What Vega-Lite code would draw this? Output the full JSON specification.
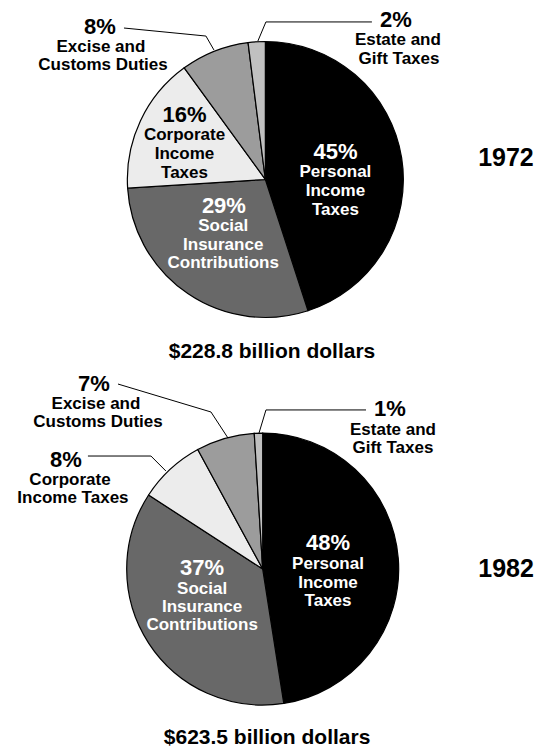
{
  "$schema": "https://vega.github.io/schema/vega-lite/v6.json",
  "padding": 0,
  "spacing": 0,
  "background": "white",
  "config": {
    "view": {"stroke": null},
    "text": {"font": "Liberation Sans", "fontWeight": "bold", "align": "center", "baseline": "middle"}
  },
  "datasets": {
    "slices": [
      {"year": 1972, "slice": "Personal Income Taxes", "pct": 45, "order": 1},
      {"year": 1972, "slice": "Social Insurance Contributions", "pct": 29, "order": 2},
      {"year": 1972, "slice": "Corporate Income Taxes", "pct": 16, "order": 3},
      {"year": 1972, "slice": "Excise and Customs Duties", "pct": 8, "order": 4},
      {"year": 1972, "slice": "Estate and Gift Taxes", "pct": 2, "order": 5},
      {"year": 1982, "slice": "Personal Income Taxes", "pct": 48, "order": 1},
      {"year": 1982, "slice": "Social Insurance Contributions", "pct": 37, "order": 2},
      {"year": 1982, "slice": "Corporate Income Taxes", "pct": 8, "order": 3},
      {"year": 1982, "slice": "Excise and Customs Duties", "pct": 7, "order": 4},
      {"year": 1982, "slice": "Estate and Gift Taxes", "pct": 1, "order": 5}
    ],
    "labels": [
      {"year": 1972, "role": "pct", "slice": "Personal Income Taxes", "placement": "inside", "text": "45%", "x": 0.507, "y": 0.198},
      {"year": 1972, "role": "name", "slice": "Personal Income Taxes", "placement": "inside", "text": "Personal", "x": 0.507, "y": 0.054},
      {"year": 1972, "role": "name", "slice": "Personal Income Taxes", "placement": "inside", "text": "Income", "x": 0.507, "y": -0.084},
      {"year": 1972, "role": "name", "slice": "Personal Income Taxes", "placement": "inside", "text": "Taxes", "x": 0.507, "y": -0.221},
      {"year": 1972, "role": "pct", "slice": "Social Insurance Contributions", "placement": "inside", "text": "29%", "x": -0.3, "y": -0.193},
      {"year": 1972, "role": "name", "slice": "Social Insurance Contributions", "placement": "inside", "text": "Social", "x": -0.305, "y": -0.337},
      {"year": 1972, "role": "name", "slice": "Social Insurance Contributions", "placement": "inside", "text": "Insurance", "x": -0.305, "y": -0.471},
      {"year": 1972, "role": "name", "slice": "Social Insurance Contributions", "placement": "inside", "text": "Contributions", "x": -0.305, "y": -0.605},
      {"year": 1972, "role": "pct", "slice": "Corporate Income Taxes", "placement": "inside", "text": "16%", "x": -0.585, "y": 0.466},
      {"year": 1972, "role": "name", "slice": "Corporate Income Taxes", "placement": "inside", "text": "Corporate", "x": -0.585, "y": 0.322},
      {"year": 1972, "role": "name", "slice": "Corporate Income Taxes", "placement": "inside", "text": "Income", "x": -0.585, "y": 0.185},
      {"year": 1972, "role": "name", "slice": "Corporate Income Taxes", "placement": "inside", "text": "Taxes", "x": -0.585, "y": 0.047},
      {"year": 1972, "role": "pct", "slice": "Excise and Customs Duties", "placement": "outside", "text": "8%", "x": -1.197, "y": 1.105},
      {"year": 1972, "role": "name", "slice": "Excise and Customs Duties", "placement": "outside", "text": "Excise and", "x": -1.19, "y": 0.96},
      {"year": 1972, "role": "name", "slice": "Excise and Customs Duties", "placement": "outside", "text": "Customs Duties", "x": -1.175, "y": 0.829},
      {"year": 1972, "role": "pct", "slice": "Estate and Gift Taxes", "placement": "outside", "text": "2%", "x": 0.944, "y": 1.152},
      {"year": 1972, "role": "name", "slice": "Estate and Gift Taxes", "placement": "outside", "text": "Estate and", "x": 0.959, "y": 1.01},
      {"year": 1972, "role": "name", "slice": "Estate and Gift Taxes", "placement": "outside", "text": "Gift Taxes", "x": 0.967, "y": 0.873},
      {"year": 1972, "role": "year", "slice": "", "placement": "side", "text": "1972", "x": 1.741, "y": 0.156},
      {"year": 1972, "role": "total", "slice": "", "placement": "below", "text": "$228.8 billion dollars", "x": 0.048, "y": -1.249},
      {"year": 1982, "role": "pct", "slice": "Personal Income Taxes", "placement": "inside", "text": "48%", "x": 0.48, "y": 0.19},
      {"year": 1982, "role": "name", "slice": "Personal Income Taxes", "placement": "inside", "text": "Personal", "x": 0.48, "y": 0.037},
      {"year": 1982, "role": "name", "slice": "Personal Income Taxes", "placement": "inside", "text": "Income", "x": 0.48, "y": -0.099},
      {"year": 1982, "role": "name", "slice": "Personal Income Taxes", "placement": "inside", "text": "Taxes", "x": 0.48, "y": -0.235},
      {"year": 1982, "role": "pct", "slice": "Social Insurance Contributions", "placement": "inside", "text": "37%", "x": -0.445, "y": 0.004},
      {"year": 1982, "role": "name", "slice": "Social Insurance Contributions", "placement": "inside", "text": "Social", "x": -0.445, "y": -0.143},
      {"year": 1982, "role": "name", "slice": "Social Insurance Contributions", "placement": "inside", "text": "Insurance", "x": -0.445, "y": -0.277},
      {"year": 1982, "role": "name", "slice": "Social Insurance Contributions", "placement": "inside", "text": "Contributions", "x": -0.445, "y": -0.411},
      {"year": 1982, "role": "pct", "slice": "Excise and Customs Duties", "placement": "outside", "text": "7%", "x": -1.24, "y": 1.357},
      {"year": 1982, "role": "name", "slice": "Excise and Customs Duties", "placement": "outside", "text": "Excise and", "x": -1.225, "y": 1.211},
      {"year": 1982, "role": "name", "slice": "Excise and Customs Duties", "placement": "outside", "text": "Customs Duties", "x": -1.21, "y": 1.078},
      {"year": 1982, "role": "pct", "slice": "Corporate Income Taxes", "placement": "outside", "text": "8%", "x": -1.445, "y": 0.8},
      {"year": 1982, "role": "name", "slice": "Corporate Income Taxes", "placement": "outside", "text": "Corporate", "x": -1.416, "y": 0.653},
      {"year": 1982, "role": "name", "slice": "Corporate Income Taxes", "placement": "outside", "text": "Income Taxes", "x": -1.394, "y": 0.521},
      {"year": 1982, "role": "pct", "slice": "Estate and Gift Taxes", "placement": "outside", "text": "1%", "x": 0.935, "y": 1.174},
      {"year": 1982, "role": "name", "slice": "Estate and Gift Taxes", "placement": "outside", "text": "Estate and", "x": 0.957, "y": 1.02},
      {"year": 1982, "role": "name", "slice": "Estate and Gift Taxes", "placement": "outside", "text": "Gift Taxes", "x": 0.957, "y": 0.888},
      {"year": 1982, "role": "year", "slice": "", "placement": "side", "text": "1982", "x": 1.788, "y": 0.0},
      {"year": 1982, "role": "total", "slice": "", "placement": "below", "text": "$623.5 billion dollars", "x": 0.032, "y": -1.24}
    ],
    "leaders": [
      {"year": 1972, "id": "excise", "i": 1, "x": -1.023, "y": 1.097},
      {"year": 1972, "id": "excise", "i": 2, "x": -0.43, "y": 1.039},
      {"year": 1972, "id": "excise", "i": 3, "x": -0.372, "y": 0.938},
      {"year": 1972, "id": "estate", "i": 1, "x": 0.771, "y": 1.141},
      {"year": 1972, "id": "estate", "i": 2, "x": 0.004, "y": 1.141},
      {"year": 1972, "id": "estate", "i": 3, "x": -0.054, "y": 1.003},
      {"year": 1982, "id": "excise", "i": 1, "x": -1.063, "y": 1.357},
      {"year": 1982, "id": "excise", "i": 2, "x": -0.38, "y": 1.152},
      {"year": 1982, "id": "excise", "i": 3, "x": -0.255, "y": 0.961},
      {"year": 1982, "id": "corporate", "i": 1, "x": -1.284, "y": 0.829},
      {"year": 1982, "id": "corporate", "i": 2, "x": -0.821, "y": 0.829},
      {"year": 1982, "id": "corporate", "i": 3, "x": -0.711, "y": 0.719},
      {"year": 1982, "id": "estate", "i": 1, "x": 0.759, "y": 1.167},
      {"year": 1982, "id": "estate", "i": 2, "x": 0.024, "y": 1.167},
      {"year": 1982, "id": "estate", "i": 3, "x": -0.027, "y": 0.998}
    ]
  },
  "vconcat": [
    {
      "width": 539,
      "height": 370,
      "encoding": {
        "x": {"type": "quantitative", "scale": {"domain": [-1.92, 1.98], "nice": false, "zero": false}, "axis": null},
        "y": {"type": "quantitative", "scale": {"domain": [-1.38, 1.3], "nice": false, "zero": false}, "axis": null}
      },
      "layer": [
        {
          "data": {"name": "slices"},
          "transform": [{"filter": "datum.year == 1972"}],
          "mark": {"type": "arc", "outerRadius": 138, "stroke": "#000000", "strokeWidth": 1.2},
          "encoding": {
            "theta": {"field": "pct", "type": "quantitative", "stack": "normalize"},
            "order": {"field": "order", "type": "quantitative"},
            "color": {"field": "slice", "type": "nominal", "legend": null,
              "scale": {"domain": ["Personal Income Taxes", "Social Insurance Contributions", "Corporate Income Taxes", "Excise and Customs Duties", "Estate and Gift Taxes"],
                        "range": ["#000000", "#686868", "#ececec", "#9c9c9c", "#c0c0c0"]}},
            "x": {"datum": 0, "type": "quantitative"},
            "y": {"datum": 0, "type": "quantitative"}
          }
        },
        {
          "data": {"name": "leaders"},
          "transform": [{"filter": "datum.year == 1972"}],
          "mark": {"type": "line", "color": "#000000", "strokeWidth": 1},
          "encoding": {
            "x": {"field": "x", "type": "quantitative"},
            "y": {"field": "y", "type": "quantitative"},
            "detail": {"field": "id"},
            "order": {"field": "i", "type": "quantitative"}
          }
        },
        {
          "data": {"name": "labels"},
          "transform": [{"filter": "datum.year == 1972 && datum.role == 'pct'"}],
          "mark": {"type": "text", "fontSize": 22},
          "encoding": {
            "x": {"field": "x", "type": "quantitative"},
            "y": {"field": "y", "type": "quantitative"},
            "text": {"field": "text"},
            "color": {"condition": {"test": "datum.placement == 'inside' && datum.slice != 'Corporate Income Taxes'", "value": "#ffffff"}, "value": "#000000"}
          }
        },
        {
          "data": {"name": "labels"},
          "transform": [{"filter": "datum.year == 1972 && datum.role == 'name'"}],
          "mark": {"type": "text", "fontSize": 17},
          "encoding": {
            "x": {"field": "x", "type": "quantitative"},
            "y": {"field": "y", "type": "quantitative"},
            "text": {"field": "text"},
            "color": {"condition": {"test": "datum.placement == 'inside' && datum.slice != 'Corporate Income Taxes'", "value": "#ffffff"}, "value": "#000000"}
          }
        },
        {
          "data": {"name": "labels"},
          "transform": [{"filter": "datum.year == 1972 && datum.role == 'year'"}],
          "mark": {"type": "text", "fontSize": 25, "color": "#000000"},
          "encoding": {
            "x": {"field": "x", "type": "quantitative"},
            "y": {"field": "y", "type": "quantitative"},
            "text": {"field": "text"}
          }
        },
        {
          "data": {"name": "labels"},
          "transform": [{"filter": "datum.year == 1972 && datum.role == 'total'"}],
          "mark": {"type": "text", "fontSize": 21, "color": "#000000"},
          "encoding": {
            "x": {"field": "x", "type": "quantitative"},
            "y": {"field": "y", "type": "quantitative"},
            "text": {"field": "text"}
          }
        }
      ]
    },
    {
      "width": 539,
      "height": 379,
      "encoding": {
        "x": {"type": "quantitative", "scale": {"domain": [-1.93, 2.03], "nice": false, "zero": false}, "axis": null},
        "y": {"type": "quantitative", "scale": {"domain": [-1.32, 1.46], "nice": false, "zero": false}, "axis": null}
      },
      "layer": [
        {
          "data": {"name": "slices"},
          "transform": [{"filter": "datum.year == 1982"}],
          "mark": {"type": "arc", "outerRadius": 136, "stroke": "#000000", "strokeWidth": 1.2},
          "encoding": {
            "theta": {"field": "pct", "type": "quantitative", "stack": "normalize"},
            "order": {"field": "order", "type": "quantitative"},
            "color": {"field": "slice", "type": "nominal", "legend": null,
              "scale": {"domain": ["Personal Income Taxes", "Social Insurance Contributions", "Corporate Income Taxes", "Excise and Customs Duties", "Estate and Gift Taxes"],
                        "range": ["#000000", "#686868", "#ececec", "#9c9c9c", "#c0c0c0"]}},
            "x": {"datum": 0, "type": "quantitative"},
            "y": {"datum": 0, "type": "quantitative"}
          }
        },
        {
          "data": {"name": "leaders"},
          "transform": [{"filter": "datum.year == 1982"}],
          "mark": {"type": "line", "color": "#000000", "strokeWidth": 1},
          "encoding": {
            "x": {"field": "x", "type": "quantitative"},
            "y": {"field": "y", "type": "quantitative"},
            "detail": {"field": "id"},
            "order": {"field": "i", "type": "quantitative"}
          }
        },
        {
          "data": {"name": "labels"},
          "transform": [{"filter": "datum.year == 1982 && datum.role == 'pct'"}],
          "mark": {"type": "text", "fontSize": 22},
          "encoding": {
            "x": {"field": "x", "type": "quantitative"},
            "y": {"field": "y", "type": "quantitative"},
            "text": {"field": "text"},
            "color": {"condition": {"test": "datum.placement == 'inside' && datum.slice != 'Corporate Income Taxes'", "value": "#ffffff"}, "value": "#000000"}
          }
        },
        {
          "data": {"name": "labels"},
          "transform": [{"filter": "datum.year == 1982 && datum.role == 'name'"}],
          "mark": {"type": "text", "fontSize": 17},
          "encoding": {
            "x": {"field": "x", "type": "quantitative"},
            "y": {"field": "y", "type": "quantitative"},
            "text": {"field": "text"},
            "color": {"condition": {"test": "datum.placement == 'inside' && datum.slice != 'Corporate Income Taxes'", "value": "#ffffff"}, "value": "#000000"}
          }
        },
        {
          "data": {"name": "labels"},
          "transform": [{"filter": "datum.year == 1982 && datum.role == 'year'"}],
          "mark": {"type": "text", "fontSize": 25, "color": "#000000"},
          "encoding": {
            "x": {"field": "x", "type": "quantitative"},
            "y": {"field": "y", "type": "quantitative"},
            "text": {"field": "text"}
          }
        },
        {
          "data": {"name": "labels"},
          "transform": [{"filter": "datum.year == 1982 && datum.role == 'total'"}],
          "mark": {"type": "text", "fontSize": 21, "color": "#000000"},
          "encoding": {
            "x": {"field": "x", "type": "quantitative"},
            "y": {"field": "y", "type": "quantitative"},
            "text": {"field": "text"}
          }
        }
      ]
    }
  ]
}
